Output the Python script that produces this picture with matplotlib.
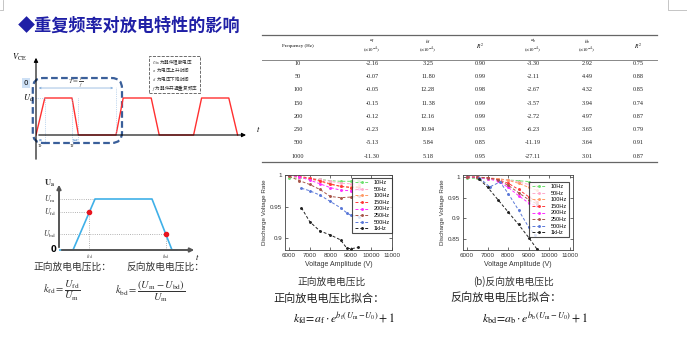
import matplotlib
matplotlib.use("Agg")
import matplotlib.pyplot as plt
import numpy as np
from matplotlib.patches import FancyBboxPatch, Rectangle
from matplotlib.ticker import FormatStrFormatter

plt.rcParams['mathtext.fontset'] = 'stix'
CJK = ['Noto Sans CJK SC', 'DejaVu Sans']
SANS = ['Liberation Sans', 'DejaVu Sans']
SERIF = ['Liberation Serif', 'DejaVu Serif']
W, H = 687, 359

# ---------------- data ----------------
# fit table
freqs = [10, 50, 100, 150, 200, 250, 500, 1000]
a_f = [-2.16, -0.07, -0.05, -0.15, -0.12, -0.23, -5.13, -11.30]
b_f = [3.25, 11.80, 12.28, 11.38, 12.16, 10.94, 5.84, 5.18]
r2_f = [0.90, 0.99, 0.98, 0.99, 0.99, 0.93, 0.85, 0.95]
a_b = [-3.30, -2.11, -2.67, -3.57, -2.72, -6.23, -11.19, -27.11]
b_b = [2.92, 4.49, 4.32, 3.94, 4.97, 3.65, 3.64, 3.01]
r2_b = [0.75, 0.88, 0.85, 0.74, 0.87, 0.79, 0.91, 0.87]

# schematic waveform (time in periods, voltage in U_d)
wave_t = [0, 0.11, 0.45, 0.53, 1.0, 1.09, 1.44, 1.54, 1.97, 2.07, 2.41, 2.52]
wave_v = [0, 1, 1, 0, 0, 1, 1, 0, 0, 1, 1, 0]

# single pulse schematic
trap_t = [0, 1.4, 3.6, 9.3, 11.3, 11.8]
trap_v = [0, 0, 1, 1, 0, 0]
U_fd, U_bd = 0.745, 0.314

# discharge voltage rate curves
labels = ['10Hz', '50Hz', '100Hz', '150Hz', '200Hz', '250Hz', '500Hz', '1kHz']
colors = ['#6ee06e', '#ffaacc', '#ff9a66', '#ff3838', '#ff2cff', '#a8564a', '#5a78d8', '#222222']

fwd_v = [
    [6000, 6500, 7000, 7500, 8000, 8500, 9000, 9400],
    [6000, 6500, 7000, 7500, 8000, 8500, 9000, 9400],
    [6000, 6500, 7000, 7500, 8000, 8500, 9000, 9400],
    [6000, 6500, 7000, 7500, 8000, 8500, 9000, 9400],
    [6000, 6500, 7000, 7500, 8000, 8500, 9000, 9400],
    [6000, 6500, 7000, 7500, 8000, 8500, 9000, 9400],
    [6600, 7000, 7500, 8000, 8500, 8800, 9000, 9400],
    [6600, 7000, 7500, 8000, 8500, 8800, 9000, 9350],
]
fwd_r = [
    [0.996, 0.995, 0.994, 0.993, 0.991, 0.990, 0.990, 0.991],
    [0.998, 0.996, 0.995, 0.993, 0.990, 0.987, 0.986, 0.986],
    [1.000, 0.997, 0.994, 0.990, 0.985, 0.982, 0.981, 0.982],
    [1.000, 0.998, 0.995, 0.991, 0.986, 0.982, 0.980, 0.980],
    [1.000, 0.997, 0.992, 0.986, 0.980, 0.976, 0.975, 0.977],
    [0.998, 0.991, 0.985, 0.977, 0.966, 0.964, 0.965, 0.966],
    [0.979, 0.975, 0.968, 0.958, 0.948, 0.940, 0.936, 0.934],
    [0.948, 0.926, 0.911, 0.905, 0.897, 0.884, 0.883, 0.885],
]

bwd_v = [
    [6000, 6500, 7000, 7500, 8000, 8500, 9000],
    [6000, 6500, 7000, 7500, 8000, 8500, 9000, 9400],
    [6000, 6500, 7000, 7500, 8000, 8500, 9000, 9400],
    [6000, 6500, 7000, 7500, 8000, 8500, 9000, 9400],
    [6000, 6500, 7000, 7500, 8000, 8500, 9000, 9400],
    [6000, 6500, 7000, 7500, 8000, 8500, 9000, 9400],
    [6600, 7100, 7600, 8000, 8500, 9000, 9300],
    [6600, 7000, 7500, 8000, 8500, 9000, 9400],
]
bwd_r = [
    [0.997, 0.997, 0.996, 0.995, 0.993, 0.991, 0.989],
    [0.999, 0.999, 0.998, 0.996, 0.993, 0.988, 0.982, 0.978],
    [1.000, 0.999, 0.998, 0.996, 0.992, 0.985, 0.975, 0.968],
    [1.000, 1.000, 0.998, 0.994, 0.985, 0.970, 0.952, 0.940],
    [1.000, 0.999, 0.996, 0.990, 0.975, 0.955, 0.937, 0.930],
    [1.000, 1.000, 0.998, 0.993, 0.980, 0.962, 0.945, 0.935],
    [0.998, 0.976, 0.988, 0.960, 0.920, 0.878, 0.860],
    [0.995, 0.975, 0.945, 0.915, 0.885, 0.853, 0.825],
]

fig = plt.figure(figsize=(W / 100, H / 100), dpi=100)


def px_axes(x0, y0, x1, y1):
    return fig.add_axes([x0 / W, 1 - y1 / H, (x1 - x0) / W, (y1 - y0) / H])


# ---------------- waveform schematic ----------------
aw = px_axes(36, 55, 250, 162)
aw.set_xlim(0, 214 / 80)
aw.set_ylim(-27 / 37, 80 / 37)
aw.axis('off')
aw.plot(wave_t, wave_v, color='#ff3030', lw=1.0)
arrow_k = dict(arrowstyle='-|>', color='k', lw=0.8, mutation_scale=6)
aw.annotate('', xy=(2.66, 0), xytext=(0, 0), arrowprops=arrow_k, annotation_clip=False)
aw.annotate('', xy=(0, 80 / 37), xytext=(0, -27 / 37), arrowprops=arrow_k, annotation_clip=False)
guide = dict(color='#8ab4e0', lw=0.5, ls=':')
aw.plot([0, 0.11], [1, 1], **guide)
for tx in [0.11, 0.45, 0.53]:
    aw.plot([tx, tx], [-0.16, 1], **guide)
aw.plot([1.0, 1.0], [0, 1.3], **guide)
thin = dict(arrowstyle='<->', color='#7aa7d8', lw=0.5, mutation_scale=3)
aw.annotate('', xy=(1.0, 1.27), xytext=(0, 1.27), arrowprops=thin)
aw.annotate('', xy=(0.11, -0.14), xytext=(0, -0.14), arrowprops=thin)
aw.annotate('', xy=(0.53, -0.14), xytext=(0.45, -0.14), arrowprops=thin)
aw.text(0.5, 1.42, r'$T=\frac{1}{f}$', fontsize=5, ha='center', va='center', color='#444')
aw.text(0.05, -0.3, r'$\tau_{\rm r}$', fontsize=5, ha='center', va='center', color='#444')
aw.text(0.46, -0.3, r'$\tau_{\rm f}$', fontsize=5, ha='center', va='center', color='#444')
aw.text(-0.03, 1.0, r'$U_{\rm d}$', fontsize=6, ha='right', va='center')
aw.text(-0.12, 2.1, r'$V_{\rm CE}$', fontsize=6, ha='right', va='center')
aw.text(-0.125, 1.4, '0', fontsize=5, ha='center', va='center',
        bbox=dict(fc='#cde0f5', ec='none', pad=1.5))
aw.text(2.78, 0.17, r'$t$', fontsize=6, ha='center', va='center')
aw.add_patch(FancyBboxPatch((-0.04, -0.216), 1.115, 1.756,
                            boxstyle='round,pad=0,rounding_size=0.13',
                            mutation_aspect=80 / 37, fill=False, ec='#3a5f9a',
                            lw=1.6, ls=(0, (3, 1.5)), clip_on=False))
aw.add_patch(Rectangle((1.4125, 1.135), 0.6375, 1.0, fill=False, ec='#555555',
                       lw=0.6, ls='--', clip_on=False))
legend_lines = [r'$U_{\rm m}$ 为器件阻断电压', r'$\tau_{\rm r}$ 为电压上升时间',
                r'$\tau_{\rm f}$ 为电压下降时间', r'$f$ 为器件开通重复频率']
for i, s in enumerate(legend_lines):
    aw.text(1.45, 1.97 - i * 0.235, s, fontsize=3.3, family=CJK, va='center', color='#333')

# ---------------- single pulse schematic ----------------
at = px_axes(59, 182, 199, 251)
at.set_xlim(0, 14)
at.set_ylim(-1 / 51, 68 / 51)
at.axis('off')
ax_arrow = dict(arrowstyle='-|>', color='#555555', lw=1.4, mutation_scale=6)
at.annotate('', xy=(13.8, 0), xytext=(0, 0), arrowprops=ax_arrow, annotation_clip=False)
at.annotate('', xy=(0, 68 / 51), xytext=(0, 0), arrowprops=ax_arrow, annotation_clip=False)
t_fd = np.interp(U_fd, [0, 1], [trap_t[1], trap_t[2]])
t_bd = np.interp(U_bd, [0, 1], [trap_t[4], trap_t[3]])
dot = dict(color='#9a9a9a', lw=0.6, ls=':')
at.plot([0, trap_t[2]], [1, 1], **dot)
at.plot([0, t_fd], [U_fd, U_fd], **dot)
at.plot([0, t_bd], [U_bd, U_bd], **dot)
at.plot([t_fd, t_fd], [0, U_fd], **dot)
at.plot([t_bd, t_bd], [0, U_bd], **dot)
at.plot(trap_t, trap_v, color='#3fb0e8', lw=1.2)
at.plot([t_fd, t_bd], [U_fd, U_bd], 'o', color='#e8141e', ms=3)
for v, s in [(1, r'$U_{\rm m}$'), (U_fd, r'$U_{\rm fd}$'), (U_bd, r'$U_{\rm bd}$')]:
    at.text(-0.35, v, s, fontsize=5.5, ha='right', va='center', color='#333')
at.text(-0.35, 1.3, r'$\mathbf{U_a}$', fontsize=6, ha='right', va='center', color='#333')
at.text(-0.25, 0, '0', fontsize=6, fontweight='bold', ha='right', va='center')
at.text(t_fd, -0.13, r'$t_{\rm fd}$', fontsize=4.5, ha='center', va='center', color='#555')
at.text(t_bd, -0.13, r'$t_{\rm bd}$', fontsize=4.5, ha='center', va='center', color='#555')
at.text(13.8, -0.13, r'$t$', fontsize=6, ha='center', va='center')

# ---------------- discharge rate charts ----------------
def rate_chart(box, xs, ys, xlim, ylim, yticks, leg_anchor):
    ax = px_axes(*box)
    for x, y, c, lab in zip(xs, ys, colors, labels):
        ax.plot(x, y, ls=(0, (3, 2)), marker='.', ms=2.2, lw=0.7, color=c, label=lab)
    ax.set_xlim(*xlim)
    ax.set_ylim(*ylim)
    ax.set_xticks(range(6000, 11001, 1000))
    ax.set_yticks(yticks)
    ax.yaxis.set_major_formatter(FormatStrFormatter('%g'))
    ax.tick_params(direction='in', length=2, width=0.5, labelsize=4.5, pad=2,
                   top=True, right=True, colors='#333')
    for tl in ax.get_xticklabels() + ax.get_yticklabels():
        tl.set_family(SANS)
    for sp in ax.spines.values():
        sp.set_color('#444')
        sp.set_linewidth(0.6)
    ax.set_xlabel('Voltage Amplitude (V)', fontsize=5, family=SANS, labelpad=2, color='#333')
    ax.set_ylabel('Discharge Voltage Rate', fontsize=4.5, family=SANS, labelpad=2, color='#333')
    leg = ax.legend(loc='upper right', bbox_to_anchor=leg_anchor, borderaxespad=0,
                    prop={'family': SANS, 'size': 4}, fancybox=False,
                    handlelength=2.6, labelspacing=0.28, borderpad=0.4, handletextpad=0.8)
    leg.get_frame().set_edgecolor('#222')
    leg.get_frame().set_linewidth(0.8)
    return ax


rate_chart((285, 175, 392, 250), fwd_v, fwd_r, (5800, 11000), (0.881, 1.0),
           [0.9, 0.95, 1.0], (1.0, 0.96))
rate_chart((463, 175, 573, 250), bwd_v, bwd_r, (5800, 11150), (0.823, 1.005),
           [0.85, 0.9, 0.95, 1.0], (1 - 4 / 110, 1 - 7 / 75))

# ---------------- overlay (pixel coordinates) ----------------
ov = fig.add_axes([0, 0, 1, 1], zorder=10)
ov.set_xlim(0, W)
ov.set_ylim(H, 0)
ov.axis('off')
ov.patch.set_alpha(0)

# slide corner marks
ov.plot([3, 3, 0], [0, 10, 10], color='#bbbbbb', lw=0.6)
ov.plot([668, 668, 687], [0, 10, 10], color='#bbbbbb', lw=0.6)

ov.text(18, 26, '◆重复频率对放电特性的影响', fontsize=12.3, fontweight='bold',
        family=CJK, color='#1f1fa6', va='center', ha='left')

# table
ov.plot([262, 657], [35, 35], color='#666', lw=0.9)
ov.plot([262, 657], [60, 60], color='#888', lw=0.7)
ov.plot([262, 657], [162, 162], color='#666', lw=0.9)
col_x = [298, 372, 428, 480, 533, 587, 638]
ov.text(col_x[0], 46, 'Frequency (Hz)', fontsize=3.6, family=SERIF, ha='center', va='center')
heads = [r'$a_{\rm f}$', r'$b_{\rm f}$', r'$R^2$', r'$a_{\rm b}$', r'$b_{\rm b}$', r'$R^2$']
for cx, hd in zip(col_x[1:], heads):
    if 'R' in hd:
        ov.text(cx, 46, hd, fontsize=4, ha='center', va='center')
    else:
        ov.text(cx, 41.5, hd, fontsize=3.6, ha='center', va='center')
        ov.text(cx, 51, r'$(\times10^{-4})$', fontsize=3.4, ha='center', va='center')
row_y = np.linspace(63.5, 156, len(freqs))
for i, ry in enumerate(row_y):
    vals = [str(freqs[i])] + ['%.2f' % a_f[i], '%.2f' % b_f[i], '%.2f' % r2_f[i],
                              '%.2f' % a_b[i], '%.2f' % b_b[i], '%.2f' % r2_b[i]]
    for cx, s in zip(col_x, vals):
        ov.text(cx, ry, s, fontsize=4.5, family=SERIF, ha='center', va='center', color='#222')

# texts under the pulse schematic
ov.text(33, 267, '正向放电电压比：', fontsize=7, family=CJK, va='center', color='#333')
ov.text(126, 267, '反向放电电压比：', fontsize=7, family=CJK, va='center', color='#333')
ov.text(62, 291, r'$k_{\rm fd}=\dfrac{U_{\rm fd}}{U_{\rm m}}$', fontsize=7.5,
        ha='center', va='center', color='#333')
ov.text(150, 291, r'$k_{\rm bd}=\dfrac{(U_{\rm m}-U_{\rm bd})}{U_{\rm m}}$', fontsize=7.5,
        ha='center', va='center', color='#333')

# captions and fit formulas
ov.text(332, 282, '正向放电电压比', fontsize=7, family=CJK, ha='center', va='center', color='#333')
ov.text(513, 282, '(b)反向放电电压比', fontsize=7, family=CJK, ha='center', va='center', color='#333')
ov.text(273, 299, '正向放电电压比拟合：', fontsize=8, family=CJK, va='center', color='#222')
ov.text(450, 298, '反向放电电压比拟合：', fontsize=8, family=CJK, va='center', color='#222')
ov.text(293, 318, r'$k_{\rm fd}\!=\!a_{\rm f}\cdot e^{b_{\rm f}(\,U_{\rm m}-U_0)}+1$',
        fontsize=8.5, va='center', color='#111')
ov.text(482, 318, r'$k_{\rm bd}\!=\!a_{\rm b}\cdot e^{b_{\rm b}(\,U_{\rm m}-U_0)}+1$',
        fontsize=8.5, va='center', color='#111')

fig.savefig('out.png', dpi=100)
